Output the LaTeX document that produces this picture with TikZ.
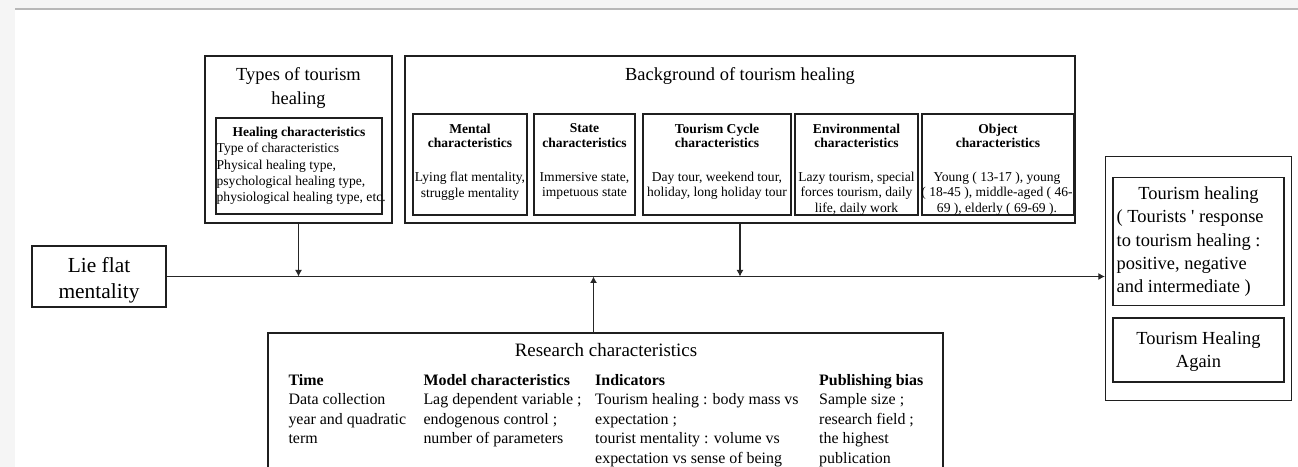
\documentclass[tikz,border=0pt]{standalone}
\usepackage{fontspec}
\setmainfont{Liberation Serif}[Ligatures=TeXOff]
\usetikzlibrary{arrows.meta}
\begin{document}
\begin{tikzpicture}[x=1bp,y=-1bp,
  box/.style={draw=black!88, line width=1.3bp, inner sep=0pt, rectangle},
  titlef/.style={font=\fontsize{18.5}{23.5}\selectfont, inner sep=0pt, align=center, anchor=north},
  lief/.style={font=\fontsize{21.5}{26}\selectfont, inner sep=0pt, align=center, anchor=north},
  smallc/.style={font=\fontsize{13.6}{15.4}\selectfont, inner sep=0pt, align=center, anchor=north},
  smallb/.style={font=\fontsize{13.6}{14.6}\selectfont\bfseries, inner sep=0pt, align=center, anchor=north},
  smalll/.style={font=\fontsize{13.6}{16.4}\selectfont, inner sep=0pt, align=left, anchor=north west},
  resf/.style={font=\fontsize{16}{19.6}\selectfont, inner sep=0pt, align=left, anchor=north west},
  rtf/.style={font=\fontsize{18.5}{23.2}\selectfont, inner sep=0pt},
  arr/.style={draw=black!85, line width=1.1bp, -{Latex[length=6.5bp,width=7bp]}},
]
\useasboundingbox (0,0) rectangle (1298,467);
\clip (0,0) rectangle (1298,467);
% page frame remnants
\fill[black!4] (0,0) rectangle (15,467);
\fill[black!4] (0,0) rectangle (1298,8);
\draw[black!28, line width=1.6bp] (15,9) -- (1298,9);

% ---------- boxes ----------
\node[box, minimum width=187bp, minimum height=167bp] (types) at (298.5,139.5) {};
\node[box, minimum width=166bp, minimum height=96bp] (heal) at (299,166) {};
\node[box, minimum width=670bp, minimum height=167bp] (bg) at (740,139.5) {};
\node[box, minimum width=114bp, minimum height=101bp] (mental) at (470,164.5) {};
\node[box, minimum width=101bp, minimum height=101bp] (state) at (584.5,164.5) {};
\node[box, minimum width=148bp, minimum height=101bp] (cycle) at (717,164.5) {};
\node[box, minimum width=123bp, minimum height=101bp] (env) at (856.5,164.5) {};
\node[box, minimum width=152bp, minimum height=101bp] (obj) at (998,164.5) {};
\node[box, minimum width=134bp, minimum height=61bp] (lie) at (99,276.5) {};
\node[box, minimum width=186bp, minimum height=244bp] (resp) at (1198.5,278.5) {};
\node[box, minimum width=171bp, minimum height=128bp] (th) at (1198.5,241.5) {};
\node[box, minimum width=171bp, minimum height=64bp] (again) at (1198.5,350) {};
\node[box, minimum width=675bp, minimum height=160bp] (research) at (605.5,413) {};

% ---------- texts ----------
\node[titlef] (typesT) at (298.5,67.7) {Types of tourism\\healing};
\node[smallb] (healH) at (299,127) {Healing characteristics};
\node[smalll] (healC) at (216.5,143.2) {Type of characteristics\\Physical healing type,\\psychological healing type,\\physiological healing type, etc.};

\node[titlef] (bgT) at (740,67.7) {Background of tourism healing};
\node[smallb] (mentalH) at (470,123.6) {Mental\\characteristics};
\node[smallc] (mentalC) at (470,172) {Lying flat mentality,\\struggle mentality};
\node[smallb] (stateH) at (584.5,123.6) {State\\characteristics};
\node[smallc] (stateC) at (584.5,172) {Immersive state,\\impetuous state};
\node[smallb] (cycleH) at (717,123.6) {Tourism Cycle\\characteristics};
\node[smallc] (cycleC) at (717,172) {Day tour, weekend tour,\\holiday, long holiday tour};
\node[smallb] (envH) at (856.5,123.6) {Environmental\\characteristics};
\node[smallc] (envC) at (856.5,172) {Lazy tourism, special\\forces tourism, daily\\life, daily work};
\node[smallb] (objH) at (998,123.6) {Object\\characteristics};
\node[smallc] (objC) at (997,172) {Young ( 13-17 ), young\\( 18-45 ), middle-aged ( 46-\\69 ), elderly ( 69-69 ).};

\node[lief] (lieT) at (99,257.5) {Lie flat\\mentality};

\node[rtf, anchor=north] (thT1) at (1198.5,186.8) {Tourism healing};
\node[rtf, anchor=north west, align=left] (thT2) at (1116.5,210) {( Tourists ' response\\to tourism healing :\\positive, negative\\and intermediate )};
\node[rtf, anchor=north, align=center] (againT) at (1198.5,331.7) {Tourism Healing\\Again};

\node[titlef, font=\fontsize{19}{23}\selectfont] (resT) at (606,343.5) {Research characteristics};
\node[resf] (colTime) at (288.3,374) {\textbf{Time}\\Data collection\\year and quadratic\\term};
\node[resf] (colModel) at (423.3,374) {\textbf{Model characteristics}\\Lag dependent variable ;\\endogenous control ;\\number of parameters};
\node[resf] (colInd) at (595,374) {\textbf{Indicators}\\Tourism healing : body mass vs\\expectation ;\\tourist mentality : volume vs\\expectation vs sense of being};
\node[resf] (colPub) at (819,374) {\textbf{Publishing bias}\\Sample size ;\\research field ;\\the highest\\publication};

% ---------- connectors ----------
\coordinate (resUp) at (593.5,333);
\draw[arr] (lie.east) -- (lie.east -| resp.west);
\draw[arr] (types.south) -- (types.south |- lie.east);
\draw[arr] (bg.south) -- (bg.south |- lie.east);
\draw[arr] (resUp) -- (resUp |- lie.east);
\end{tikzpicture}
\end{document}
